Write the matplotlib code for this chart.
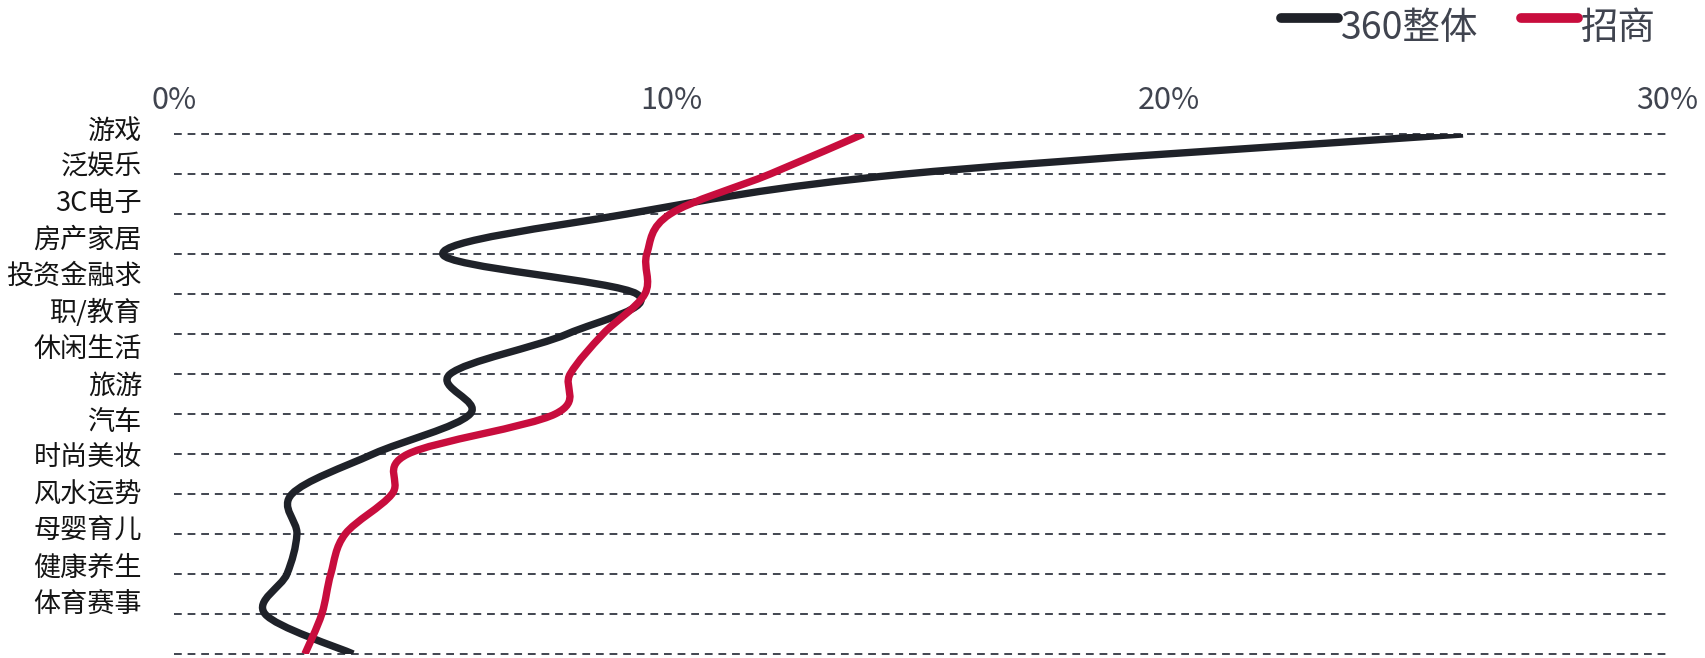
import numpy as np
import matplotlib.pyplot as plt
from matplotlib.path import Path
from matplotlib.patches import PathPatch
from matplotlib.lines import Line2D

plt.rcParams['font.family'] = ['Noto Sans CJK SC', 'DejaVu Sans']

# categories as printed on the left, top to bottom
categories = ['游戏', '泛娱乐', '3C电子', '房产家居', '投资金融求', '职/教育', '休闲生活',
              '旅游', '汽车', '时尚美妆', '风水运势', '母婴育儿', '健康养生', '体育赛事']

# share (%) per row
overall = [25.9, 14.7, 9.1, 5.4, 9.3, 7.9, 5.55, 5.95, 4.0, 2.37, 2.47, 2.27, 1.83, 3.6]
zhaoshang = [13.85, 11.98, 9.97, 9.5, 9.46, 8.62, 7.96, 7.66, 4.7, 4.38, 3.44, 3.15, 2.97, 2.63]

x_ticks = [0, 10, 20, 30]
x_tick_labels = ['0%', '10%', '20%', '30%']

BLACK = '#1f2229'
RED = '#c80d3d'
GRAY = '#40444f'


def smoothPath(xs, ys):
    # catmull-rom through the points, written as cubic bezier segments
    pts = np.column_stack([xs, ys]).astype(float)
    ext = np.vstack([pts[0], pts, pts[-1]])
    verts = [pts[0]]
    codes = [Path.MOVETO]
    for i in range(len(pts) - 1):
        p0, p1, p2, p3 = ext[i], ext[i + 1], ext[i + 2], ext[i + 3]
        verts += [p1 + (p2 - p0) / 6, p2 - (p3 - p1) / 6, p2]
        codes += [Path.CURVE4] * 3
    return Path(verts, codes)


fig = plt.figure(figsize=(17.05, 6.58), dpi=100)
ax = fig.add_axes([174 / 1705, 4 / 658, (1667 - 174) / 1705, (654 - 134) / 658])

rows = np.arange(len(overall))
ax.hlines(rows, 0, 30, colors=GRAY, linestyles=(0, (4, 3)), linewidth=1.4,
          clip_on=False, zorder=1)

for vals, col in [(overall, BLACK), (zhaoshang, RED)]:
    ax.add_patch(PathPatch(smoothPath(vals, rows), facecolor='none', edgecolor=col,
                           linewidth=5.3, capstyle='butt', joinstyle='round', zorder=3))

ax.set_xlim(0, 30)
ax.set_ylim(len(overall) - 1, 0)
ax.xaxis.tick_top()
ax.set_xticks(x_ticks)
ax.set_xticklabels(x_tick_labels)
ax.tick_params(axis='x', length=0, pad=13, labelsize=22, labelcolor=GRAY)
ax.set_yticks([])
for s in ax.spines.values():
    s.set_visible(False)

# row labels sit on their own spacing, a bit tighter than the dashed rows
for i, name in enumerate(categories):
    ax.annotate(name, xy=(0, -0.125 + 0.91 * i), xycoords=('axes fraction', 'data'),
                xytext=(-23, -1.5), textcoords='offset points', ha='right', va='center',
                fontsize=19.5, color='#141414', annotation_clip=False)

# legend, drawn by hand at the top right
legend_items = [('360整体', BLACK, 1281), ('招商', RED, 1521)]
for name, col, x0 in legend_items:
    fig.add_artist(Line2D([x0 / 1705, (x0 + 57) / 1705], [1 - 18 / 658] * 2,
                          color=col, linewidth=7, solid_capstyle='round'))
    fig.text((x0 + 60) / 1705, 1 - 29 / 658, name, ha='left', va='center',
             fontsize=27, color=GRAY)

fig.savefig('out.png', dpi=100)
